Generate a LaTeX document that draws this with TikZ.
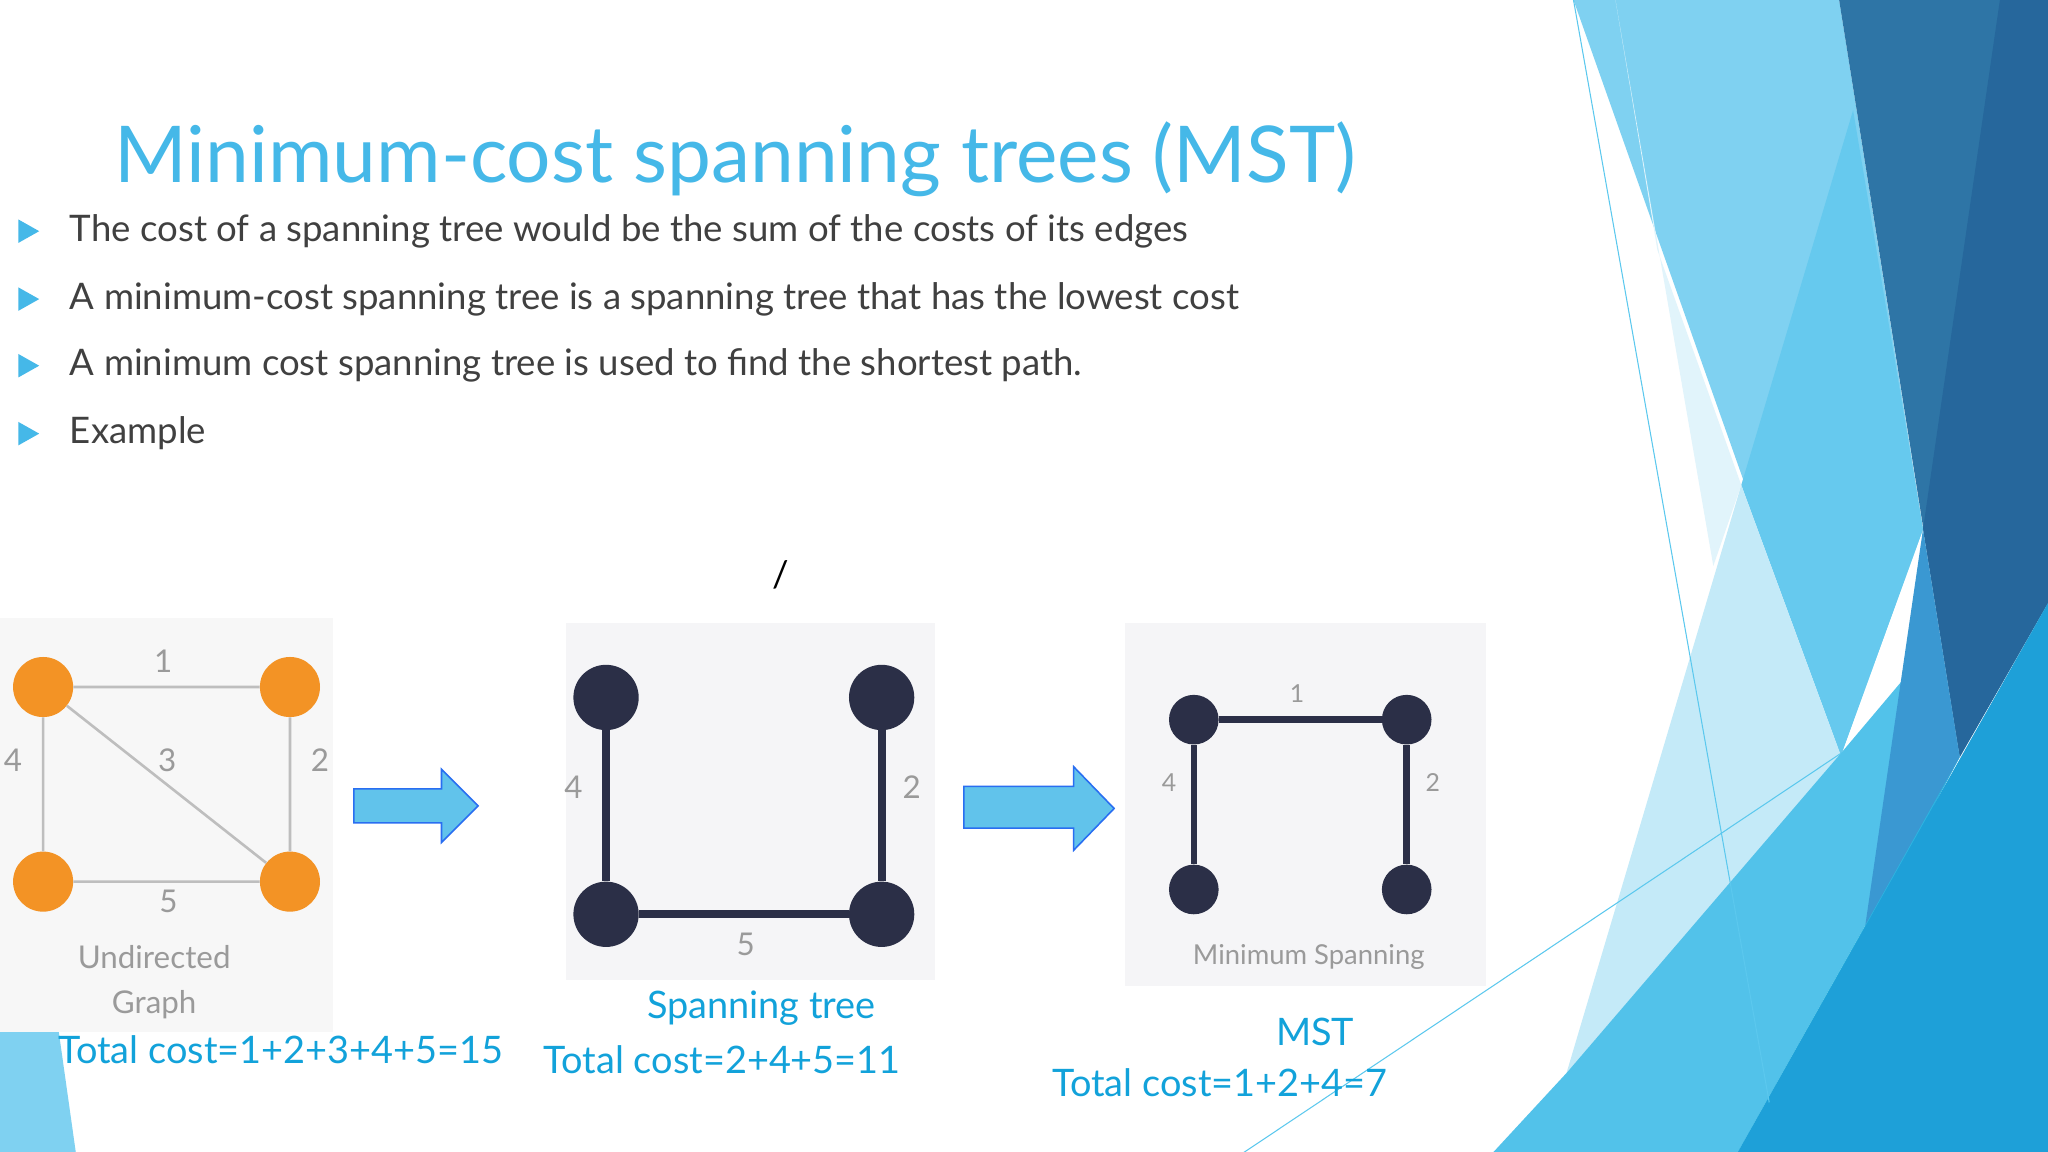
\documentclass[tikz,border=0pt]{standalone}
\usepackage{fontspec}
\setmainfont{Lato}
\definecolor{ttl}{HTML}{45B8E8}
\definecolor{blu}{HTML}{12A2DA}
\definecolor{txt}{HTML}{404040}
\definecolor{org}{HTML}{F39325}
\definecolor{drk}{HTML}{2B2F47}
\definecolor{gry}{HTML}{9A9A9A}
\definecolor{ka}{RGB}{127,209,241}
\definecolor{kb}{RGB}{225,244,251}
\definecolor{kc}{RGB}{102,201,238}
\definecolor{kd}{RGB}{196,234,248}
\definecolor{ke}{RGB}{46,117,166}
\definecolor{kf}{RGB}{38,103,156}
\definecolor{kg}{RGB}{82,194,234}
\definecolor{kh}{RGB}{58,152,210}
\definecolor{ki}{RGB}{45,182,226}
\definecolor{kj}{RGB}{30,160,216}
\definecolor{kl}{RGB}{91,200,238}
\definecolor{edg}{RGB}{190,190,190}
\definecolor{pa}{RGB}{247,247,247}
\definecolor{pb}{RGB}{245,245,247}
\begin{document}
\begin{tikzpicture}[x=1pt,y=-1pt,
  bul/.style={fill=ttl},
  btxt/.style={anchor=west,text=txt,font=\fontsize{28}{32}\selectfont},
  lbl/.style={text=gry,font=\fontsize{24}{28}\selectfont},
  blab/.style={text=blu,font=\fontsize{29}{34}\selectfont},
  onode/.style={circle,fill=org,minimum size=46pt,inner sep=0pt},
  dnode/.style={circle,fill=drk,minimum size=50pt,inner sep=0pt},
  snode/.style={circle,fill=drk,minimum size=38pt,inner sep=0pt},
  arr/.style={fill=ttl!85,draw=blue!40!ttl,line width=1.2pt}]
\useasboundingbox (0,0) rectangle (1568,882);
\fill[white] (0,0) rectangle (1568,882);
% decoration
\fill[ka] (0,790) -- (45,790) -- (58,882) -- (0,882) -- cycle;
\begin{scope}[shift={(1148.5,0)},x=0.2676pt,y=-0.5627pt]
 \fill[ka] (210,0) -- (970,0) -- (1210,720) -- (975,1028) -- cycle;
 \fill[kb] (330,0) -- (450,340) -- (690,660) -- (610,770) -- cycle;
 \fill[kc] (1010,150) -- (1210,720) -- (975,1028) -- (690,660) -- cycle;
 \fill[kd] (690,660) -- (975,1028) -- (190,1460) -- cycle;
 \fill[ke] (970,0) -- (1568,0) -- (1568,820) -- (1315,1030) -- cycle;
 \fill[kf] (1430,0) -- (1568,0) -- (1568,820) -- (1315,1030) -- (1210,720) -- cycle;
 \fill[kg] (-20,1568) -- (190,1460) -- (975,1025) -- (1250,870) -- (1315,1030) -- (680,1568) -- cycle;
 \fill[kh] (1210,720) -- (1315,1030) -- (1040,1275) -- cycle;
 \fill[ki] (1040,1275) -- (1315,1030) -- (680,1568) -- (950,1568) -- cycle;
 \fill[kj] (680,1568) -- (1568,820) -- (1568,1568) -- cycle;
 \draw[kl,line width=0.8pt] (210,0) -- (770,1500);
 \draw[kl,line width=0.8pt] (975,1025) -- (-733,1568);
\end{scope}
% title
\node[text=ttl,font=\fontsize{60}{66}\selectfont] (title) at (563,122) {Minimum-cost spanning trees (MST)};
% bullets
\foreach \y/\t [count=\i] in {177/{The cost of a spanning tree would be the sum of the costs of its edges},
  229/{A minimum-cost spanning tree is a spanning tree that has the lowest cost},
  280/{A minimum cost spanning tree is used to find the shortest path.},
  332/Example}{
  \fill[bul] (14,\y-9) -- (30,\y) -- (14,\y+9) -- cycle;
  \node[btxt] (b\i) at (50,\y) {\t};
}
\node[font=\fontsize{28}{32}\selectfont,text=black] (sl) at (598,440) {/};
% panel 1
\fill[pa] (0,473) rectangle (255,790);
\node[onode] (a1) at (33,526) {};
\node[onode] (a2) at (222,526) {};
\node[onode] (a3) at (33,675) {};
\node[onode] (a4) at (222,675) {};
\draw[edg,line width=2pt] (a1) -- (a2) (a2) -- (a4) (a4) -- (a3) (a3) -- (a1) (a1) -- (a4);
\node[lbl] (l1) at (125,506) {1};
\node[lbl] (l4) at (10,582) {4};
\node[lbl] (l3) at (128,582) {3};
\node[lbl] (l2) at (245,582) {2};
\node[lbl] (l5) at (129,690) {5};
\node[lbl,align=center,font=\fontsize{24}{34}\selectfont] (ug) at (118,752) {Undirected\\Graph};
% arrows
\draw[arr] (271,604) -- (338,604) -- (338,589) -- (366,617) -- (338,645) -- (338,630) -- (271,630) -- cycle;
\draw[arr] (738,602) -- (822,602) -- (822,587) -- (853,619) -- (822,651) -- (822,634) -- (738,634) -- cycle;
% panel 2
\fill[pb] (433,477) rectangle (716,750);
\node[dnode] (c1) at (464,534) {};
\node[dnode] (c2) at (675,534) {};
\node[dnode] (c3) at (464,700) {};
\node[dnode] (c4) at (675,700) {};
\draw[drk,line width=6pt] (c1) -- (c3) (c2) -- (c4) (c3) -- (c4);
\node[lbl] (m4) at (439,603) {4};
\node[lbl] (m2) at (698,603) {2};
\node[lbl] (m5) at (571,723) {5};
% panel 3
\fill[pb] (861,477) rectangle (1138,755);
\node[snode] (d1) at (914,551) {};
\node[snode] (d2) at (1077,551) {};
\node[snode] (d3) at (914,681) {};
\node[snode] (d4) at (1077,681) {};
\draw[drk,line width=5pt] (d1) -- (d2) (d1) -- (d3) (d2) -- (d4);
\node[lbl,font=\fontsize{19}{22}\selectfont] (n1) at (993,531) {1};
\node[lbl,font=\fontsize{19}{22}\selectfont] (n4) at (895,599) {4};
\node[lbl,font=\fontsize{19}{22}\selectfont] (n2) at (1097,599) {2};
\node[lbl,font=\fontsize{21}{24}\selectfont] (ms) at (1002,733) {Minimum Spanning};
% captions
\node[blab] (t1) at (215,804) {Total cost=1+2+3+4+5=15};
\node[blab] (t2a) at (583,772) {Spanning tree};
\node[blab] (t2) at (553,811) {Total cost=2+4+5=11};
\node[blab] (t3a) at (1007,790) {MST};
\node[blab] (t3) at (934,829) {Total cost=1+2+4=7};
\end{tikzpicture}
\end{document}
